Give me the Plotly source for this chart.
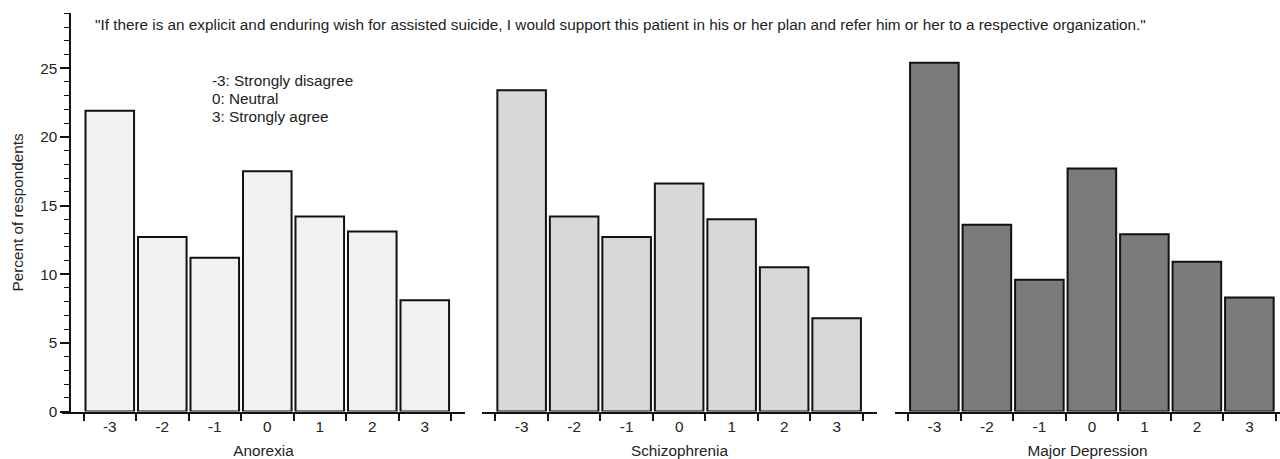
import plotly.graph_objects as go

W, H = 1280, 459

categories = ["-3", "-2", "-1", "0", "1", "2", "3"]
anorexia = [21.9, 12.7, 11.2, 17.5, 14.2, 13.1, 8.1]
schizophrenia = [23.4, 14.2, 12.7, 16.6, 14.0, 10.5, 6.8]
major_depression = [25.4, 13.6, 9.6, 17.7, 12.9, 10.9, 8.3]

panel_names = ["Anorexia", "Schizophrenia", "Major Depression"]
panel_colors = ["#f1f1f1", "#d8d8d8", "#7b7b7b"]
series = [anorexia, schizophrenia, major_depression]

title_text = ("\"If there is an explicit and enduring wish for assisted suicide, I would support "
              "this patient in his or her plan and refer him or her to a respective organization.\"")
legend_lines = ["-3: Strongly disagree", "0: Neutral", "3: Strongly agree"]

FONT = "Liberation Sans, Arial, Helvetica, sans-serif"
FS = 15.3
TXT = "#222222"

# pixel geometry of each panel's x axis: (left px, right px, left range in category index)
unit = 52.5
panels_px = [(62, 465, -0.91), (482, 877, -0.755), (895, 1280, -0.75)]
y_bottom_px, y_top_px = 411.5, 13.3
ydom = [(H - y_bottom_px) / H, (H - y_top_px) / H]

fig = go.Figure()
for i, (name, col, vals) in enumerate(zip(panel_names, panel_colors, series)):
    k = "" if i == 0 else str(i + 1)
    fig.add_trace(go.Bar(
        x=categories, y=vals, xaxis="x" + k, yaxis="y" + k,
        marker=dict(color=col, line=dict(color="#111111", width=2)),
        showlegend=False, name=name,
    ))
    l, r, r0 = panels_px[i]
    r1 = r0 + (r - l) / unit
    fig.layout["xaxis" + k] = dict(
        domain=[l / W, r / W], range=[r0, r1], type="category",
        categoryorder="array", categoryarray=categories,
        tickson="boundaries", ticks="outside", ticklen=8, tickwidth=1.5,
        tickcolor="#111111", showline=True, linecolor="#111111", linewidth=1.5,
        showgrid=False, zeroline=False, anchor="y" + k, automargin=False,
        tickfont=dict(size=FS, family=FONT, color=TXT),
        title=dict(text=name, font=dict(size=FS, family=FONT, color=TXT), standoff=13),
        fixedrange=True,
    )
    if i == 0:
        fig.layout["yaxis"] = dict(
            domain=ydom, range=[0, 29], anchor="free", position=70 / W, automargin=False,
            tickvals=[0, 5, 10, 15, 20, 25], ticks="outside", ticklen=9, tickwidth=1.5,
            tickcolor="#111111", showline=True, linecolor="#111111", linewidth=1.5,
            minor=dict(dtick=1, ticks="outside", ticklen=5, tickwidth=1.2, tickcolor="#111111", showgrid=False),
            showgrid=False, zeroline=False,
            tickfont=dict(size=FS, family=FONT, color=TXT),
            title=dict(text="Percent of respondents", font=dict(size=FS, family=FONT, color=TXT), standoff=12),
        )
    else:
        fig.layout["yaxis" + k] = dict(domain=ydom, range=[0, 29], anchor="x" + k, visible=False)

fig.add_annotation(
    text=title_text, x=620.5 / W, y=1 - 25 / H, xref="paper", yref="paper",
    showarrow=False, xanchor="center", yanchor="middle",
    font=dict(size=FS, family=FONT, color=TXT),
)
for j, line in enumerate(legend_lines):
    fig.add_annotation(
        text=line, x=210 / W, y=1 - (80 + 18.3 * j) / H, xref="paper", yref="paper",
        showarrow=False, xanchor="left", yanchor="middle", align="left",
        font=dict(size=FS, family=FONT, color=TXT),
    )

fig.update_layout(
    width=W, height=H, margin=dict(l=0, r=0, t=0, b=0, autoexpand=False),
    paper_bgcolor="white", plot_bgcolor="white", bargap=0.075,
)
fig.write_html(
    "out.html",
    config={"displayModeBar": False},
    post_script="document.body.style.margin='0px';document.body.style.overflow='hidden';",
)
